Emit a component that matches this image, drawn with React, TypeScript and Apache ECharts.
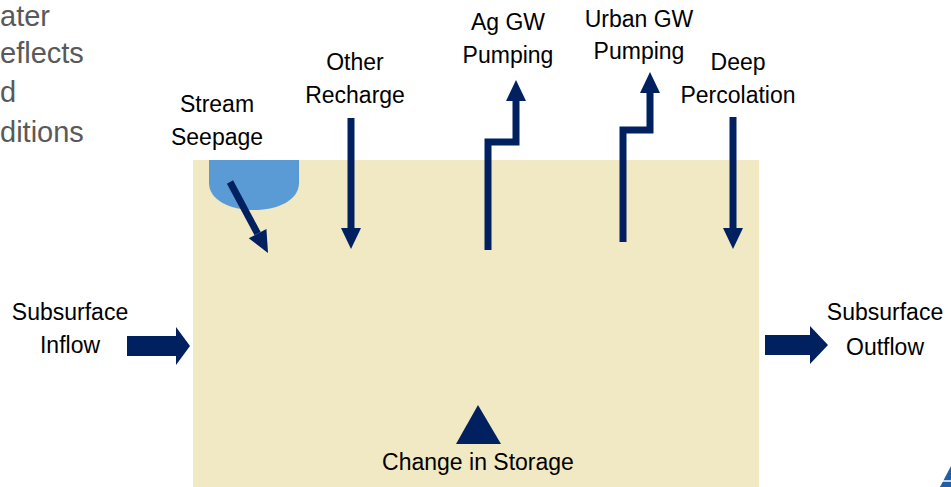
import React, { useEffect, useRef } from "react";
import * as echarts from "echarts";

// Labels of the water-budget diagram
const topLeftLines = ["ater", "eflects", "d", "ditions"];
const streamLabel = ["Stream", "Seepage"];
const otherRechargeLabel = ["Other", "Recharge"];
const agPumpingLabel = ["Ag GW", "Pumping"];
const urbanPumpingLabel = ["Urban GW", "Pumping"];
const deepPercLabel = ["Deep", "Percolation"];
const inflowLabel = ["Subsurface", "Inflow"];
const outflowLabel = ["Subsurface", "Outflow"];
const storageLabel = "Change in Storage";

const NAVY = "#002060";
const FONT = "Liberation Sans, Arial, sans-serif";

echarts.graphic.registerShape(
  "blob",
  echarts.graphic.extendPath(
    "M209,160 L299,160 L299,183 C299,200 278,210 254,210 C230,210 209,200 209,183 Z",
    {}
  )
);

function textLines(lines: string[], cx: number, ys: number[], size = 23, color = "#000") {
  return lines.map((t, i) => ({
    type: "text",
    x: cx,
    y: ys[i],
    style: {
      text: t,
      fill: color,
      fontSize: size,
      fontFamily: FONT,
      align: "center",
      verticalAlign: "middle",
    },
  }));
}

function vLine(x: number, y1: number, y2: number, w = 7) {
  return { type: "line", shape: { x1: x, y1, x2: x, y2 }, style: { stroke: NAVY, lineWidth: w } };
}

function headUp(x: number, tipY: number) {
  return { type: "polygon", shape: { points: [[x, tipY], [x - 10, tipY + 21], [x + 10, tipY + 21]] }, style: { fill: NAVY } };
}
function headDown(x: number, tipY: number) {
  return { type: "polygon", shape: { points: [[x, tipY], [x - 10, tipY - 21], [x + 10, tipY - 21]] }, style: { fill: NAVY } };
}
function blockRight(x1: number, x2: number, tip: number, cy: number) {
  return {
    type: "polygon",
    shape: {
      points: [[x1, cy - 10], [x2, cy - 10], [x2, cy - 19], [tip, cy], [x2, cy + 19], [x2, cy + 10], [x1, cy + 10]],
    },
    style: { fill: NAVY },
  };
}

export default function App() {
  const ref = useRef<HTMLDivElement>(null);
  useEffect(() => {
    if (!ref.current) return;
    const chart = echarts.init(ref.current, null, { renderer: "svg" });

    // stream seepage diagonal arrow
    const sx = 230, sy = 182, tx = 268, ty = 253;
    const dx = tx - sx, dy = ty - sy, L = Math.hypot(dx, dy);
    const ux = dx / L, uy = dy / L;
    const bx = tx - 22 * ux, by = ty - 22 * uy;
    const px = -uy, py = ux;

    const elements: any[] = [
      { type: "rect", shape: { x: 193, y: 160, width: 566, height: 340 }, style: { fill: "#F0E9C3" } },
      { type: "blob", style: { fill: "#5B9BD5" } },
      { type: "line", shape: { x1: sx, y1: sy, x2: bx, y2: by }, style: { stroke: NAVY, lineWidth: 7 } },
      {
        type: "polygon",
        shape: { points: [[tx, ty], [bx + 10 * px, by + 10 * py], [bx - 10 * px, by - 10 * py]] },
        style: { fill: NAVY },
      },
      // Other recharge
      vLine(351, 118, 232),
      headDown(351, 249),
      // Ag GW pumping
      { type: "polyline", shape: { points: [[488, 250], [488, 142], [516, 142], [516, 98]] }, style: { stroke: NAVY, lineWidth: 7, fill: "none" } },
      headUp(516, 80),
      // Urban GW pumping
      { type: "polyline", shape: { points: [[623, 242], [623, 130], [650, 130], [650, 90]] }, style: { stroke: NAVY, lineWidth: 7, fill: "none" } },
      headUp(650, 72),
      // Deep percolation
      vLine(733, 117, 232),
      headDown(733, 249),
      // Subsurface arrows
      blockRight(127, 176, 190, 346),
      blockRight(765, 810, 828, 345),
      // Change in storage
      { type: "polygon", shape: { points: [[478, 405], [456, 444], [501, 444]] }, style: { fill: NAVY } },
      // logo corner
      { type: "polygon", shape: { points: [[951, 466], [940, 487], [951, 487]] }, style: { fill: "#1F5FA8" } },
      { type: "line", shape: { x1: 942, y1: 481, x2: 951, y2: 481 }, style: { stroke: "#fff", lineWidth: 1.5 } },
    ];

    const texts: any[] = [
      ...topLeftLines.map((t, i) => ({
        type: "text",
        x: 0,
        y: [16, 53, 92, 132][i],
        style: { text: t, fill: "#595959", fontSize: 29, fontFamily: FONT, align: "left", verticalAlign: "middle" },
      })),
      ...textLines(streamLabel, 217, [104, 137]),
      ...textLines(otherRechargeLabel, 355, [62, 95]),
      ...textLines(agPumpingLabel, 508, [22, 55]),
      ...textLines(urbanPumpingLabel, 639, [19, 51]),
      ...textLines(deepPercLabel, 738, [62, 95]),
      ...textLines(inflowLabel, 70, [312, 345]),
      ...textLines(outflowLabel, 885, [312, 347]),
      ...textLines([storageLabel], 478, [462]),
    ];

    chart.setOption({
      animation: false,
      backgroundColor: "#fff",
      graphic: { elements: [...elements, ...texts] },
    });
    return () => chart.dispose();
  }, []);
  return <div ref={ref} style={{ position: "absolute", left: 0, top: 0, width: 951, height: 487 }} />;
}
